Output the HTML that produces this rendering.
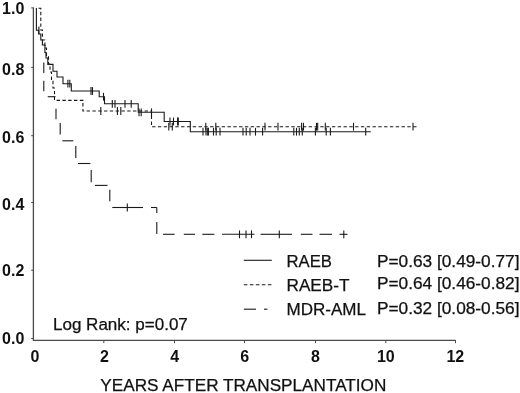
<!DOCTYPE html>
<html><head><meta charset="utf-8"><title>Survival</title>
<style>html,body{margin:0;padding:0;background:#fff}body{width:520px;height:393px;overflow:hidden}</style>
</head><body>
<svg width="520" height="393" viewBox="0 0 520 393" style="display:block;filter:blur(0.35px)">
<rect width="520" height="393" fill="#fff"/>
<g stroke="#4a4a4a" stroke-width="1.3" fill="none">
<polyline points="33.4,7.5 33.4,340.3 455.8,340.3"/>
</g>
<g stroke="#4a4a4a" stroke-width="1" fill="none">
<line x1="31.2" y1="7.9" x2="33.4" y2="7.9"/>
<line x1="31.2" y1="67.4" x2="33.4" y2="67.4"/>
<line x1="31.2" y1="135.7" x2="33.4" y2="135.7"/>
<line x1="31.2" y1="202.5" x2="33.4" y2="202.5"/>
<line x1="31.2" y1="270.2" x2="33.4" y2="270.2"/>
<line x1="31.2" y1="338.5" x2="33.4" y2="338.5"/>
<line x1="103.8" y1="340.3" x2="103.8" y2="343.2"/>
<line x1="174.5" y1="340.3" x2="174.5" y2="343.2"/>
<line x1="244.5" y1="340.3" x2="244.5" y2="343.2"/>
<line x1="315.5" y1="340.3" x2="315.5" y2="343.2"/>
<line x1="385.8" y1="340.3" x2="385.8" y2="343.2"/>
<line x1="455.5" y1="340.3" x2="455.5" y2="343.2"/>
</g>
<g stroke="#1a1a1a" stroke-width="1.1" fill="none" stroke-linejoin="miter">
<polyline points="36.4,8 36.4,30.3 38.7,30.3 38.7,34 40.8,34 40.8,40 42.4,40 42.4,45 44.9,45 44.9,52.5 46,52.5 46,58 47.8,58 47.8,64.4 53,64.4 53,71.2 57,71.2 57,77 63,77 63,83.7 71.3,83.7 71.3,91 99.2,91 99.2,96.7 104.5,96.7 104.5,103.8 138.2,103.8 138.2,112.3 164.2,112.3 164.2,121.5 190.3,121.5 190.3,131.7 370.8,131.7"/>
<polyline points="38.5,8.3 40.8,8.3 40.8,30 42.4,30 42.4,40 44.9,40 44.9,48 46.5,48 46.5,56 48.5,56 48.5,64 50,64 50,72 51.5,72 51.5,80 53,80 53,88 54.5,88 54.5,100.4 82.9,100.4 82.9,111 151.5,111 151.5,126.7 417.6,126.7" stroke-dasharray="3.4 2.4"/>
<line x1="43.8" y1="62.5" x2="43.8" y2="73"/>
<line x1="43.8" y1="80.8" x2="43.8" y2="91.3"/>
<line x1="47.7" y1="96.7" x2="55.5" y2="96.7"/>
<line x1="56" y1="108.7" x2="56" y2="119.2"/>
<line x1="60.2" y1="123" x2="60.2" y2="134.6"/>
<line x1="62.3" y1="140.8" x2="73.3" y2="140.8"/>
<line x1="75.8" y1="146" x2="75.8" y2="158"/>
<line x1="78" y1="163.5" x2="90.4" y2="163.5"/>
<line x1="91.2" y1="170" x2="91.2" y2="182.3"/>
<line x1="95" y1="185.4" x2="107.5" y2="185.4"/>
<line x1="109.8" y1="189.8" x2="109.8" y2="201.3"/>
<line x1="112.3" y1="207.5" x2="143" y2="207.5"/>
<line x1="151" y1="207.5" x2="156.8" y2="207.5"/>
<line x1="156.8" y1="207.5" x2="156.8" y2="213"/>
<line x1="156.8" y1="222" x2="156.8" y2="234"/>
<line x1="163" y1="234.3" x2="174.6" y2="234.3"/>
<line x1="183.8" y1="234.3" x2="195" y2="234.3"/>
<line x1="202.3" y1="234.3" x2="214.3" y2="234.3"/>
<line x1="222" y1="234.3" x2="254.5" y2="234.3"/>
<line x1="260.5" y1="234.3" x2="292" y2="234.3"/>
<line x1="300.8" y1="234.3" x2="312.5" y2="234.3"/>
<line x1="319.5" y1="234.3" x2="332" y2="234.3"/>
<line x1="339.5" y1="234.3" x2="347.5" y2="234.3"/>
<line x1="38.9" y1="26.400000000000002" x2="38.9" y2="34.2"/><line x1="67.9" y1="79.8" x2="67.9" y2="87.60000000000001"/><line x1="69.8" y1="79.8" x2="69.8" y2="87.60000000000001"/><line x1="91" y1="87.1" x2="91" y2="94.9"/><line x1="92.5" y1="87.1" x2="92.5" y2="94.9"/><line x1="103.5" y1="92.8" x2="103.5" y2="100.60000000000001"/><line x1="112.3" y1="99.89999999999999" x2="112.3" y2="107.7"/><line x1="115" y1="99.89999999999999" x2="115" y2="107.7"/><line x1="125" y1="99.89999999999999" x2="125" y2="107.7"/><line x1="131.2" y1="99.89999999999999" x2="131.2" y2="107.7"/><line x1="139" y1="108.39999999999999" x2="139" y2="116.2"/><line x1="141.2" y1="108.39999999999999" x2="141.2" y2="116.2"/><line x1="151.5" y1="108.39999999999999" x2="151.5" y2="116.2"/><line x1="170" y1="117.6" x2="170" y2="125.4"/><line x1="173.5" y1="117.6" x2="173.5" y2="125.4"/><line x1="177.6" y1="117.6" x2="177.6" y2="125.4"/><line x1="178.3" y1="117.6" x2="178.3" y2="125.4"/><line x1="203" y1="127.79999999999998" x2="203" y2="135.6"/><line x1="206" y1="127.79999999999998" x2="206" y2="135.6"/><line x1="207.7" y1="127.79999999999998" x2="207.7" y2="135.6"/><line x1="208.4" y1="127.79999999999998" x2="208.4" y2="135.6"/><line x1="213.5" y1="127.79999999999998" x2="213.5" y2="135.6"/><line x1="216.2" y1="127.79999999999998" x2="216.2" y2="135.6"/><line x1="220" y1="127.79999999999998" x2="220" y2="135.6"/><line x1="243" y1="127.79999999999998" x2="243" y2="135.6"/><line x1="246.2" y1="127.79999999999998" x2="246.2" y2="135.6"/><line x1="250" y1="127.79999999999998" x2="250" y2="135.6"/><line x1="255.5" y1="127.79999999999998" x2="255.5" y2="135.6"/><line x1="262.6" y1="127.79999999999998" x2="262.6" y2="135.6"/><line x1="293.8" y1="127.79999999999998" x2="293.8" y2="135.6"/><line x1="296.5" y1="127.79999999999998" x2="296.5" y2="135.6"/><line x1="299.3" y1="127.79999999999998" x2="299.3" y2="135.6"/><line x1="302.3" y1="127.79999999999998" x2="302.3" y2="135.6"/><line x1="315.4" y1="127.79999999999998" x2="315.4" y2="135.6"/><line x1="326.2" y1="127.79999999999998" x2="326.2" y2="135.6"/><line x1="330.4" y1="127.79999999999998" x2="330.4" y2="135.6"/><line x1="365.7" y1="127.79999999999998" x2="365.7" y2="135.6"/>
<line x1="100.8" y1="107.1" x2="100.8" y2="114.9"/><line x1="117.4" y1="107.1" x2="117.4" y2="114.9"/><line x1="120.8" y1="107.1" x2="120.8" y2="114.9"/><line x1="168.8" y1="122.8" x2="168.8" y2="130.6"/><line x1="172.3" y1="122.8" x2="172.3" y2="130.6"/><line x1="205.8" y1="122.8" x2="205.8" y2="130.6"/><line x1="215.8" y1="122.8" x2="215.8" y2="130.6"/><line x1="265" y1="122.8" x2="265" y2="130.6"/><line x1="278" y1="122.8" x2="278" y2="130.6"/><line x1="301.6" y1="122.8" x2="301.6" y2="130.6"/><line x1="303.5" y1="122.8" x2="303.5" y2="130.6"/><line x1="316.5" y1="122.8" x2="316.5" y2="130.6"/><line x1="317.7" y1="122.8" x2="317.7" y2="130.6"/><line x1="325.3" y1="122.8" x2="325.3" y2="130.6"/><line x1="353.5" y1="122.8" x2="353.5" y2="130.6"/><line x1="413" y1="122.8" x2="413" y2="130.6"/>
<line x1="127.3" y1="203.6" x2="127.3" y2="211.4"/><line x1="239.5" y1="230.4" x2="239.5" y2="238.20000000000002"/><line x1="246" y1="230.4" x2="246" y2="238.20000000000002"/><line x1="251.5" y1="230.4" x2="251.5" y2="238.20000000000002"/><line x1="279.3" y1="230.4" x2="279.3" y2="238.20000000000002"/><line x1="343.8" y1="230.4" x2="343.8" y2="238.20000000000002"/>
<line x1="243.8" y1="260.3" x2="271.8" y2="260.3"/>
<line x1="243.8" y1="284.7" x2="272.5" y2="284.7" stroke-dasharray="3.6 2.4"/>
<line x1="243.8" y1="309.2" x2="256" y2="309.2"/>
<line x1="264" y1="309.2" x2="267.5" y2="309.2"/>
</g>
<g font-family="Liberation Sans, Arial, Helvetica, sans-serif" fill="#111" font-size="16" font-weight="bold" text-anchor="end">
<text x="24.3" y="14.2">1.0</text>
<text x="24.3" y="74.9">0.8</text>
<text x="24.3" y="142.7">0.6</text>
<text x="24.3" y="209.5">0.4</text>
<text x="24.3" y="275.7">0.2</text>
<text x="24.3" y="343.9">0.0</text>
</g>
<g font-family="Liberation Sans, Arial, Helvetica, sans-serif" fill="#111" font-size="16" font-weight="bold" text-anchor="middle">
<text x="35" y="362.4">0</text>
<text x="104.5" y="362.4">2</text>
<text x="174.8" y="362.4">4</text>
<text x="244.8" y="362.4">6</text>
<text x="315.5" y="362.4">8</text>
<text x="385.8" y="362.4">10</text>
<text x="455.3" y="362.4">12</text>
</g>
<g font-family="Liberation Sans, Arial, Helvetica, sans-serif" fill="#111" font-size="16" stroke="#111" stroke-width="0.25">
<text x="100.3" y="391" textLength="286" lengthAdjust="spacingAndGlyphs">YEARS AFTER TRANSPLANTATION</text>
<text x="53" y="329.8" textLength="134.8" lengthAdjust="spacingAndGlyphs">Log Rank: p=0.07</text>
<text x="286.5" y="266.5" textLength="45.5" lengthAdjust="spacingAndGlyphs">RAEB</text>
<text x="286.5" y="290.5" textLength="63" lengthAdjust="spacingAndGlyphs">RAEB-T</text>
<text x="286.5" y="315" textLength="79.5" lengthAdjust="spacingAndGlyphs">MDR-AML</text>
<text x="377" y="266.5" textLength="142.5" lengthAdjust="spacingAndGlyphs">P=0.63 [0.49-0.77]</text>
<text x="377" y="289.4" textLength="142.5" lengthAdjust="spacingAndGlyphs">P=0.64 [0.46-0.82]</text>
<text x="377" y="314.2" textLength="142.5" lengthAdjust="spacingAndGlyphs">P=0.32 [0.08-0.56]</text>
</g>
</svg>
</body></html>
